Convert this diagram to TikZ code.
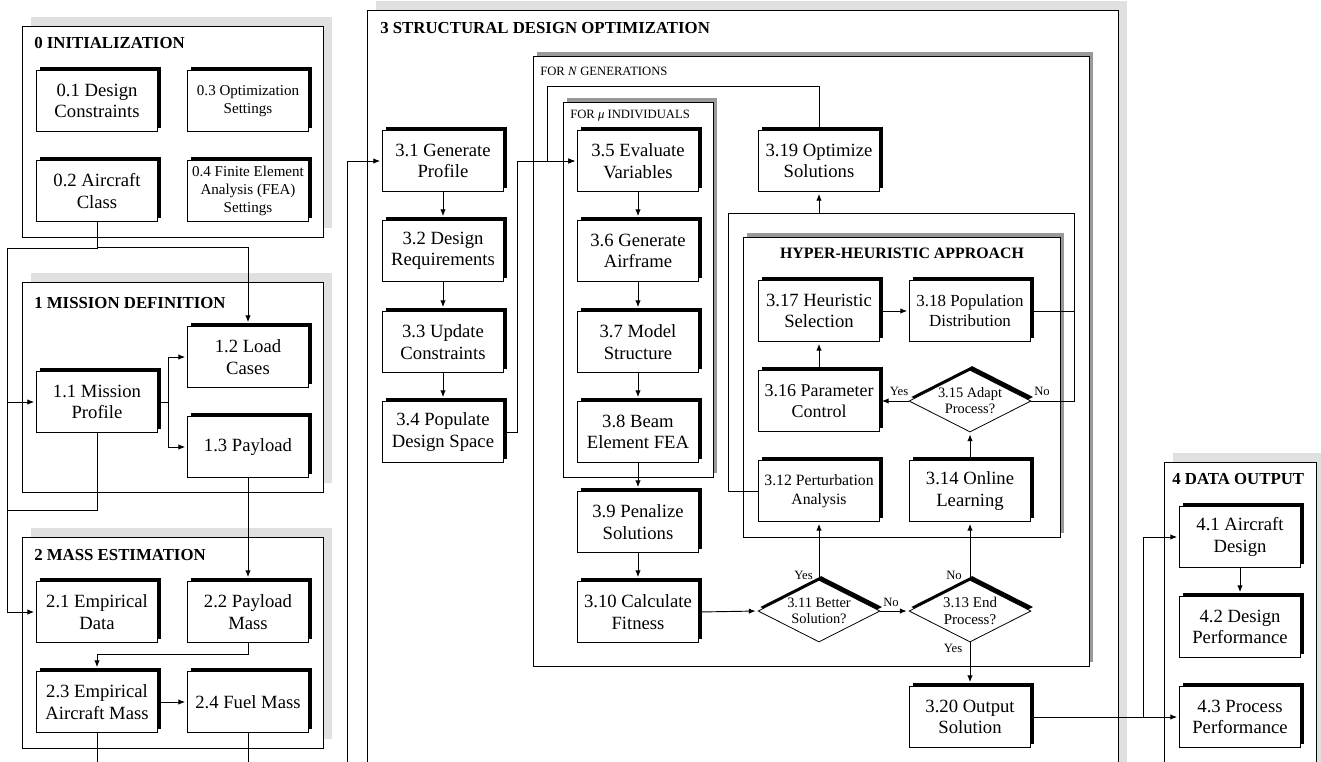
\documentclass[tikz,border=0pt]{standalone}
\usepackage{fontspec}
\setmainfont{Liberation Serif}
\usetikzlibrary{shapes.geometric,shadows,arrows.meta}
\begin{document}
\begin{tikzpicture}[x=0.75pt,y=-0.75pt,
 panel/.style={draw, line width=0.7pt, fill=white, anchor=north west, inner sep=0pt,
   drop shadow={shadow xshift=6.75pt, shadow yshift=6.75pt, fill=gray!24, opacity=1}},
 frame/.style={draw, line width=0.7pt, fill=white, anchor=north west, inner sep=0pt,
   drop shadow={shadow xshift=3pt, shadow yshift=3pt, fill=gray!80, opacity=1}},
 box/.style={draw, line width=0.6pt, fill=white, minimum width=90.75pt, minimum height=45.75pt,
   inner sep=0pt, align=center, font=\fontsize{14}{16}\selectfont,
   drop shadow={shadow xshift=2.6pt, shadow yshift=2.6pt, fill=black, opacity=1}},
 sbox/.style={box, font=\fontsize{11.3}{13.5}\selectfont},
 mbox/.style={box, font=\fontsize{12.7}{15}\selectfont},
 dec/.style={diamond, aspect=2, draw, line width=0.6pt, fill=white, minimum width=91.5pt,
   minimum height=46.5pt, inner sep=0pt, align=center, font=\fontsize{10.8}{12}\selectfont,
   drop shadow={shadow xshift=1.6pt, shadow yshift=3pt, fill=black, opacity=1}},
 title/.style={anchor=west, inner sep=0pt, font=\bfseries\fontsize{12.6}{15}\selectfont},
 looplab/.style={anchor=west, inner sep=0pt, font=\fontsize{9.5}{11}\selectfont},
 lab/.style={inner sep=0pt, font=\fontsize{9.5}{11}\selectfont},
 conn/.style={line width=0.7pt},
 arr/.style={conn, -{Latex[length=5pt,width=4pt]}, shorten >=1.5pt},
 darr/.style={arr, shorten >=3pt},
]
\useasboundingbox (0,0) rectangle (1321,761);
\clip (0,0) rectangle (1321,761);

% ---------- panels ----------
\node[panel, minimum width=225.75pt, minimum height=158.25pt] (p0) at (22,26) {};
\node[panel, minimum width=225.75pt, minimum height=157.5pt] (p1) at (22,282) {};
\node[panel, minimum width=225.75pt, minimum height=158.25pt] (p2) at (22,537) {};
\node[panel, minimum width=563.25pt, minimum height=600pt] (p3) at (367,10) {};
\node[panel, minimum width=114pt, minimum height=255pt] (p4) at (1164,462) {};
\node[frame, minimum width=417pt, minimum height=457.5pt] (fN) at (533,56) {};
\node[frame, minimum width=112.5pt, minimum height=281.25pt] (fmu) at (563,102) {};
\node[frame, minimum width=237.75pt, minimum height=225pt] (fH) at (743,237) {};

% ---------- titles ----------
\node[title] (t0) at (34,43) {0 INITIALIZATION};
\node[title] (t1) at (34,303) {1 MISSION DEFINITION};
\node[title] (t2) at (34,555) {2 MASS ESTIMATION};
\node[title] (t3) at (380,28) {3 STRUCTURAL DESIGN OPTIMIZATION};
\node[title] (t4) at (1172,479) {4 DATA OUTPUT};
\node[looplab] (lN) at (540,71) {FOR \textit{N} GENERATIONS};
\node[looplab] (lmu) at (570,116) {FOR \textit{μ} INDIVIDUALS};
\node[inner sep=0pt, font=\bfseries\fontsize{11.9}{14}\selectfont] (tH) at (902,253) {HYPER-HEURISTIC APPROACH};

% ---------- panel 0 ----------
\node[box] (b01) at (97,101) {0.1 Design\\Constraints};
\node[sbox] (b03) at (248,101) {0.3 Optimization\\Settings};
\node[box] (b02) at (97,191) {0.2 Aircraft\\Class};
\node[sbox] (b04) at (248,191) {0.4 Finite Element\\Analysis (FEA)\\Settings};

% ---------- panel 1 ----------
\node[box] (b11) at (97,402) {1.1 Mission\\Profile};
\node[box] (b12) at (248,357) {1.2 Load\\Cases};
\node[box] (b13) at (248,447) {1.3 Payload};

% ---------- panel 2 ----------
\node[box] (b21) at (97,612) {2.1 Empirical\\Data};
\node[box] (b22) at (248,612) {2.2 Payload\\Mass};
\node[box] (b23) at (97,702) {2.3 Empirical\\Aircraft Mass};
\node[box] (b24) at (248,702) {2.4 Fuel Mass};

% ---------- panel 3 ----------
\node[box] (b31) at (443,161) {3.1 Generate\\Profile};
\node[box] (b32) at (443,251) {3.2 Design\\Requirements};
\node[box] (b33) at (443,342) {3.3 Update\\Constraints};
\node[box] (b34) at (443,432) {3.4 Populate\\Design Space};
\node[box] (b35) at (638,161) {3.5 Evaluate\\Variables};
\node[box] (b36) at (638,251) {3.6 Generate\\Airframe};
\node[box] (b37) at (638,342) {3.7 Model\\Structure};
\node[box] (b38) at (638,432) {3.8 Beam\\Element FEA};
\node[box] (b39) at (638,522) {3.9 Penalize\\Solutions};
\node[box] (b310) at (638,612) {3.10 Calculate\\Fitness};
\node[box] (b319) at (819,161) {3.19 Optimize\\Solutions};
\node[box] (b317) at (819,311) {3.17 Heuristic\\Selection};
\node[mbox] (b318) at (970,311) {3.18 Population\\Distribution};
\node[box, font=\fontsize{13.5}{16}\selectfont] (b316) at (819,401) {3.16 Parameter\\Control};
\node[dec] (d315) at (970,401) {3.15 Adapt\\Process?};
\node[sbox, font=\fontsize{11.8}{14.5}\selectfont] (b312) at (819,491) {3.12 Perturbation\\Analysis};
\node[box] (b314) at (970,491) {3.14 Online\\Learning};
\node[dec] (d311) at (819,611) {3.11 Better\\Solution?};
\node[dec, font=\fontsize{11.2}{12.5}\selectfont] (d313) at (970,611) {3.13 End\\Process?};
\node[box] (b320) at (970,717) {3.20 Output\\Solution};

% ---------- panel 4 ----------
\node[box] (b41) at (1240,537) {4.1 Aircraft\\Design};
\node[box] (b42) at (1240,627) {4.2 Design\\Performance};
\node[box] (b43) at (1240,717) {4.3 Process\\Performance};

% ---------- connectors: panels 0-2 ----------
\coordinate (jL) at (7,248);
\coordinate (jB) at (7,510);
\draw[arr] (b02.south) |- (jL) |- (b11.west);
\draw[arr] (jL) |- (b21.west);
\draw[darr] (b02.south) -- ++(0,26) -| (b12.north);
\draw[conn] (b11.south) |- (jB);
\draw[arr] (b11.east) -- ++(11,0) coordinate (j1) |- (b12.west);
\draw[arr] (j1) |- (b13.west);
\draw[darr] (b13.south) -- (b22.north);
\draw[darr] (b22.south) -- ++(0,12) -| (b23.north);
\draw[arr] (b23.east) -- (b24.west);
\coordinate (o23) at (97,775);
\coordinate (o24) at (248,775);
\draw[conn] (b23.south) -- (o23);
\draw[conn] (b24.south) -- (o24);
\coordinate (in31) at (347,775);
\draw[arr] (in31) |- (b31.west);

% ---------- connectors: panel 3 ----------
\draw[darr] (b31.south) -- (b32.north);
\draw[darr] (b32.south) -- (b33.north);
\draw[darr] (b33.south) -- (b34.north);
\draw[arr] (b34.east) -- ++(14,0) |- (b35.west);
\coordinate (jN) at (547,86);
\draw[arr] (b319.north) |- (jN) |- (b35.west);
\draw[darr] (b35.south) -- (b36.north);
\draw[darr] (b36.south) -- (b37.north);
\draw[darr] (b37.south) -- (b38.north);
\draw[darr] (b38.south) -- (b39.north);
\draw[darr] (b39.south) -- (b310.north);
\draw[arr] (b310.east) -- (d311.west);
\draw[arr] (d311.east) -- (d313.west);
\draw[arr] (d311.north) -- (b312.south);
\draw[arr] (d313.north) -- (b314.south);
\draw[darr] (d313.south) -- (b320.north);
\draw[arr] (b314.north) -- (d315.south);
\draw[arr] (d315.west) -- (b316.east);
\draw[arr] (b316.north) -- (b317.south);
\draw[arr] (b317.east) -- (b318.west);
\coordinate (hL) at (728,213);
\coordinate (hR) at (1074,213);
\draw[conn] (b312.west) -| (hL) -- (hR) |- (d315.east);
\draw[conn] (b318.east) -- (b318.east -| hR);
\draw[arr] (b319.south |- hL) -- (b319.south);

\node[lab, anchor=east] (y311) at (813,575) {Yes};
\node[lab] (n311) at (891,602) {No};
\node[lab] (n313) at (954,575) {No};
\node[lab] (y313) at (953,648) {Yes};
\node[lab] (y315) at (899,391) {Yes};
\node[lab] (n315) at (1042,391) {No};

% ---------- connectors: panel 4 ----------
\coordinate (j4) at (1143,717);
\draw[arr] (b320.east) -- (b43.west);
\draw[arr] (j4) |- (b41.west);
\draw[darr] (b41.south) -- (b42.north);
\end{tikzpicture}
\end{document}
